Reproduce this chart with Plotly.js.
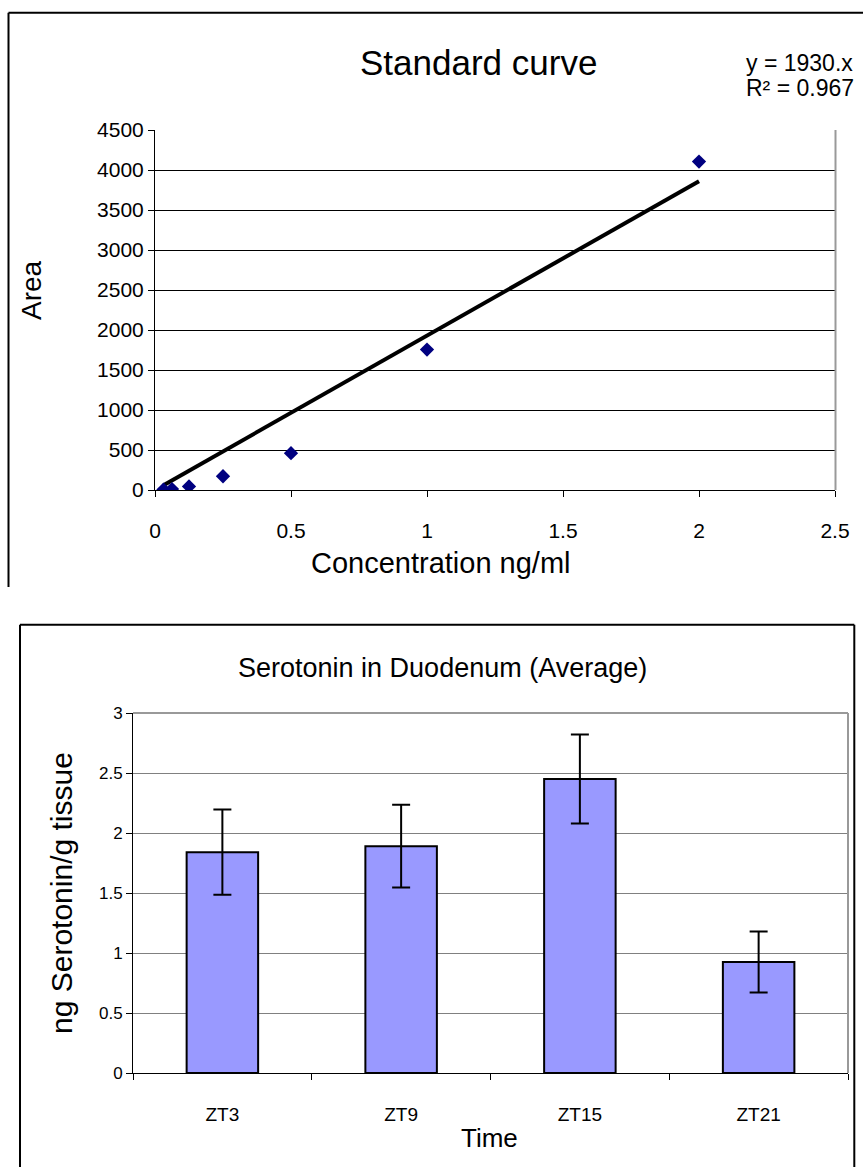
<!DOCTYPE html>
<html>
<head>
<meta charset="utf-8">
<script src="https://cdn.plot.ly/plotly-3.0.1.min.js"></script>
<style>html,body{margin:0;padding:0;background:#fff;}#chart{width:863px;height:1167px;}</style>
</head>
<body>
<div id="chart"></div>
<script>
// ---- Standard curve data ----
const concentration = [0.03125, 0.0625, 0.125, 0.25, 0.5, 1, 2];
const area = [5, 12, 45, 172, 460, 1755, 4105];
const trendX = [0.03125, 2];
const trendY = [60, 3860];
const equationLines = ["y = 1930.x", "R\u00b2 = 0.967"];

// ---- Serotonin data ----
const times = ["ZT3", "ZT9", "ZT15", "ZT21"];
const serotonin = [1.84, 1.89, 2.45, 0.925];
const serotoninErr = [0.355, 0.345, 0.37, 0.255];

const W = 863, H = 1167;
const px = x => x / W;
const py = y => 1 - y / H;

const topFont = "Liberation Sans, Arial, sans-serif";
const botFont = "Liberation Sans, Arial, sans-serif";

const traces = [
  {
    x: trendX, y: trendY, type: "scatter", mode: "lines",
    line: {color: "#000", width: 4}, xaxis: "x", yaxis: "y", hoverinfo: "skip"
  },
  {
    x: concentration, y: area, type: "scatter", mode: "markers",
    marker: {symbol: "diamond", size: 11, color: "#000080"}, xaxis: "x", yaxis: "y"
  },
  {
    x: times, y: serotonin, type: "bar", xaxis: "x2", yaxis: "y2",
    marker: {color: "#9999FF", line: {color: "#000", width: 2}},
    error_y: {type: "data", array: serotoninErr, visible: true, color: "#000", thickness: 2, width: 9}
  }
];

const layout = {
  width: W, height: H,
  margin: {l: 0, r: 0, t: 0, b: 0},
  paper_bgcolor: "#fff", plot_bgcolor: "#fff",
  showlegend: false,
  bargap: 0.6,
  xaxis: {
    domain: [px(155), px(835)], range: [0, 2.5], dtick: 0.5, tick0: 0,
    showgrid: false, zeroline: false, showline: true, linecolor: "#000", linewidth: 1,
    ticks: "outside", ticklen: 6, tickcolor: "#000",
    ticklabelstandoff: 16,
    tickfont: {family: topFont, size: 21, color: "#000"}, anchor: "y"
  },
  yaxis: {
    domain: [py(490), py(130)], range: [0, 4500], dtick: 500,
    showgrid: true, gridcolor: "#000", gridwidth: 1, zeroline: false,
    showline: true, linecolor: "#000", linewidth: 1,
    ticks: "outside", ticklen: 6, tickcolor: "#000",
    tickfont: {family: topFont, size: 21, color: "#000"}, anchor: "x"
  },
  xaxis2: {
    domain: [px(133), px(848)], type: "category",
    showgrid: false, zeroline: false, showline: true, linecolor: "#000", linewidth: 1,
    ticks: "outside", tickson: "boundaries", ticklen: 6, tickcolor: "#000",
    ticklabelstandoff: 24,
    tickfont: {family: botFont, size: 19, color: "#000"}, anchor: "y2"
  },
  yaxis2: {
    domain: [py(1073), py(713)], range: [0, 3], dtick: 0.5,
    showgrid: true, gridcolor: "#808080", gridwidth: 1, zeroline: false,
    showline: true, linecolor: "#000", linewidth: 1,
    ticks: "outside", ticklen: 6, tickcolor: "#000",
    tickfont: {family: botFont, size: 17, color: "#000"}, anchor: "x2"
  },
  shapes: [
    {type: "line", xref: "paper", yref: "paper", x0: px(8.5), y0: py(587), x1: px(8.5), y1: py(12.7), line: {color: "#000", width: 2}},
    {type: "line", xref: "paper", yref: "paper", x0: px(8.5), y0: py(12.7), x1: px(863), y1: py(12.7), line: {color: "#000", width: 2}},
    {type: "line", xref: "paper", yref: "paper", x0: px(835.5), y0: py(130), x1: px(835.5), y1: py(490), line: {color: "#999", width: 2}},
    {type: "line", xref: "paper", yref: "paper", x0: px(20), y0: py(1167), x1: px(20), y1: py(624.7), line: {color: "#000", width: 2}},
    {type: "line", xref: "paper", yref: "paper", x0: px(20), y0: py(624.7), x1: px(854.3), y1: py(624.7), line: {color: "#000", width: 2}},
    {type: "line", xref: "paper", yref: "paper", x0: px(854.3), y0: py(624.7), x1: px(854.3), y1: py(1167), line: {color: "#000", width: 2}},
    {type: "line", xref: "paper", yref: "paper", x0: px(133), y0: py(713), x1: px(848), y1: py(713), line: {color: "#999", width: 2}},
    {type: "line", xref: "paper", yref: "paper", x0: px(848), y0: py(713), x1: px(848), y1: py(1073), line: {color: "#999", width: 2}}
  ],
  annotations: [
    {text: "Standard curve", xref: "paper", yref: "paper", x: px(478), y: py(63), xanchor: "center", yanchor: "middle", showarrow: false,
     font: {family: topFont, size: 35, color: "#000"}},
    {text: equationLines[0], xref: "paper", yref: "paper", x: px(744), y: py(63), xanchor: "left", yanchor: "middle", showarrow: false,
     font: {family: botFont, size: 23, color: "#000"}},
    {text: equationLines[1], xref: "paper", yref: "paper", x: px(744), y: py(88), xanchor: "left", yanchor: "middle", showarrow: false,
     font: {family: botFont, size: 23, color: "#000"}},
    {text: "Area", xref: "paper", yref: "paper", x: px(31), y: py(290), xanchor: "center", yanchor: "middle", showarrow: false, textangle: -90,
     font: {family: topFont, size: 28, color: "#000"}},
    {text: "Concentration ng/ml", xref: "paper", yref: "paper", x: px(441), y: py(563), xanchor: "center", yanchor: "middle", showarrow: false,
     font: {family: topFont, size: 29, color: "#000"}},
    {text: "Serotonin in Duodenum (Average)", xref: "paper", yref: "paper", x: px(442), y: py(668), xanchor: "center", yanchor: "middle", showarrow: false,
     font: {family: botFont, size: 27, color: "#000"}},
    {text: "ng Serotonin/g tissue", xref: "paper", yref: "paper", x: px(61), y: py(893), xanchor: "center", yanchor: "middle", showarrow: false, textangle: -90,
     font: {family: topFont, size: 30, color: "#000"}},
    {text: "Time", xref: "paper", yref: "paper", x: px(489), y: py(1138), xanchor: "center", yanchor: "middle", showarrow: false,
     font: {family: botFont, size: 26, color: "#000"}}
  ]
};

Plotly.newPlot("chart", traces, layout, {staticPlot: true, displayModeBar: false});
</script>
</body>
</html>
